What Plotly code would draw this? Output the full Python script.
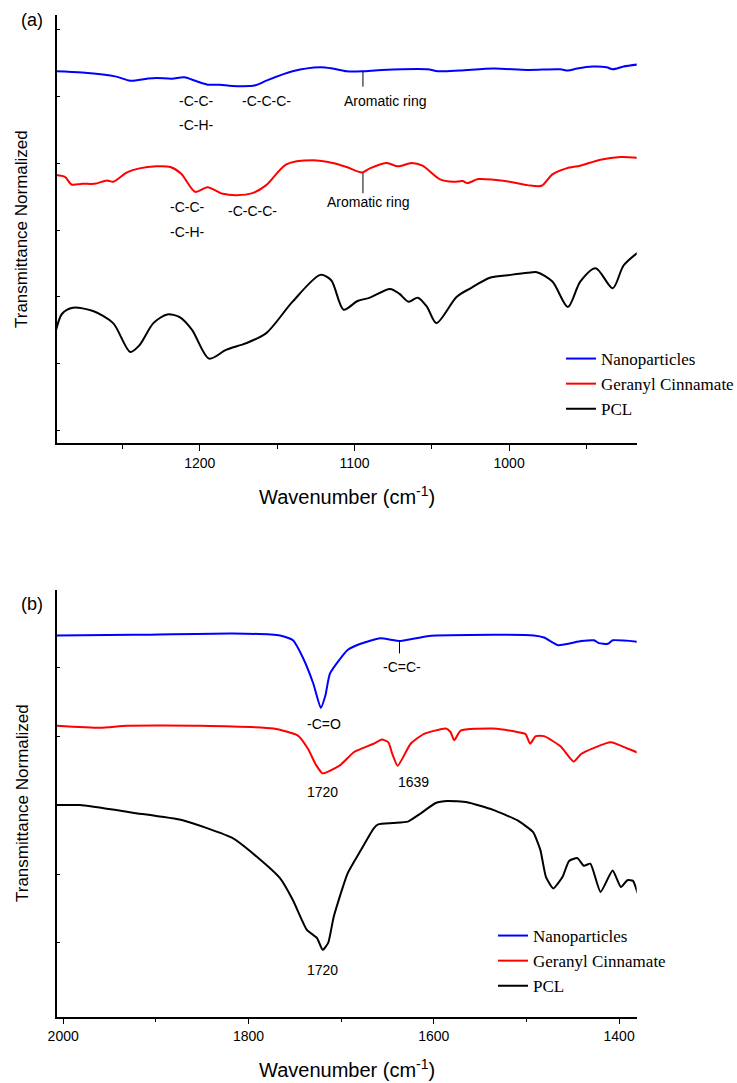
import plotly.graph_objects as go

# ---------------- Panel (a): 1300-900 cm-1 region ----------------
wn_a_nano = [1293, 1276, 1254, 1245, 1234, 1228, 1218, 1210, 1202, 1195, 1187, 1179, 1164,
             1157, 1140, 1122, 1114, 1105, 1095, 1082, 1053, 1046, 1032, 1010, 988, 967,
             962, 956, 946, 937, 933, 926, 917]
t_a_nano = [5.37, 5.35, 5.29, 5.23, 5.26, 5.27, 5.26, 5.28, 5.22, 5.17, 5.17, 5.15, 5.16,
            5.23, 5.37, 5.43, 5.41, 5.37, 5.37, 5.39, 5.40, 5.37, 5.38, 5.41, 5.39, 5.40,
            5.38, 5.41, 5.44, 5.43, 5.40, 5.44, 5.47]

wn_a_gc = [1293, 1287, 1283, 1276, 1268, 1260, 1256, 1247, 1239, 1228, 1219, 1212, 1203,
           1195, 1185, 1176, 1166, 1157, 1144, 1127, 1114, 1105, 1095, 1090, 1079, 1072,
           1063, 1056, 1045, 1036, 1030, 1027, 1020, 1010, 997, 988, 979, 972, 963, 954,
           941, 928, 917]
t_a_gc = [3.82, 3.79, 3.68, 3.69, 3.69, 3.74, 3.72, 3.86, 3.92, 3.95, 3.94, 3.84, 3.57,
          3.64, 3.54, 3.52, 3.55, 3.67, 3.98, 4.04, 4.00, 3.94, 3.86, 3.92, 4.00, 3.95,
          4.00, 3.96, 3.76, 3.72, 3.73, 3.70, 3.76, 3.75, 3.71, 3.67, 3.66, 3.83, 3.92, 3.96,
          4.05, 4.09, 4.08]

wn_a_pcl = [1293, 1289, 1282, 1269, 1256, 1245, 1239, 1230, 1221, 1213, 1205, 1194, 1183,
            1170, 1157, 1140, 1122, 1115, 1107, 1098, 1090, 1077, 1071, 1065, 1059, 1053,
            1047, 1034, 1025, 1012, 999, 988, 982, 972, 962, 954, 944, 933, 926, 917]
t_a_pcl = [1.50, 1.75, 1.84, 1.79, 1.61, 1.18, 1.28, 1.61, 1.74, 1.70, 1.51, 1.08, 1.21,
           1.31, 1.46, 1.93, 2.33, 2.25, 1.81, 1.94, 1.99, 2.12, 2.05, 1.93, 1.99, 1.85,
           1.61, 2.00, 2.13, 2.29, 2.33, 2.36, 2.37, 2.23, 1.85, 2.23, 2.43, 2.13, 2.47, 2.66]

# ---------------- Panel (b): 2000-1380 cm-1 region ----------------
wn_b_nano = [2007, 1925, 1817, 1766, 1752, 1741, 1730, 1722, 1717, 1712, 1693, 1679, 1658,
             1636, 1607, 1536, 1492, 1481, 1466, 1441, 1427, 1422, 1412, 1407, 1380]
t_b_nano = [5.46, 5.47, 5.49, 5.46, 5.39, 5.13, 4.76, 4.41, 4.59, 4.91, 5.25, 5.34, 5.42,
            5.38, 5.45, 5.47, 5.46, 5.43, 5.32, 5.38, 5.39, 5.35, 5.34, 5.39, 5.37]

wn_b_gc = [2007, 1960, 1931, 1852, 1773, 1747, 1736, 1727, 1720, 1701, 1686, 1665, 1656,
           1649, 1645, 1639, 1625, 1611, 1587, 1582, 1578, 1571, 1536, 1510, 1501, 1496,
           1490, 1481, 1463, 1449, 1441, 1427, 1409, 1391, 1380]
t_b_gc = [4.15, 4.12, 4.15, 4.15, 4.11, 4.01, 3.82, 3.58, 3.46, 3.58, 3.77, 3.89, 3.95,
          3.91, 3.75, 3.57, 3.89, 4.03, 4.11, 4.06, 3.94, 4.08, 4.11, 4.06, 4.03, 3.89,
          4.00, 4.00, 3.85, 3.63, 3.74, 3.83, 3.91, 3.82, 3.76]

wn_b_pcl = [2007, 1982, 1925, 1871, 1817, 1791, 1766, 1752, 1737, 1726, 1720, 1714, 1708,
            1693, 1679, 1665, 1660, 1644, 1628, 1614, 1598, 1585, 1564, 1536, 1510, 1493,
            1485, 1479, 1471, 1461, 1454, 1445, 1438, 1431, 1420, 1407, 1398, 1391, 1385, 1380]
t_b_pcl = [3.00, 3.00, 2.89, 2.78, 2.52, 2.25, 1.94, 1.62, 1.19, 1.07, 0.90, 1.00, 1.38,
           2.01, 2.34, 2.66, 2.72, 2.74, 2.76, 2.88, 3.03, 3.06, 3.04, 2.93, 2.78, 2.61,
           2.35, 1.96, 1.79, 1.96, 2.19, 2.23, 2.12, 2.15, 1.74, 2.05, 1.81, 1.91, 1.90, 1.72]

series_names = ["Nanoparticles", "Geranyl Cinnamate", "PCL"]
series_colors = ["#0000FF", "#FF0000", "#000000"]

W, H = 737, 1083
SANS = "Liberation Sans, Arial, sans-serif"
SERIF = "Liberation Serif, Times New Roman, serif"


def px_x(p):
    return p / W


def px_y(p):
    return 1 - p / H


fig = go.Figure()

panel_a = [(wn_a_nano, t_a_nano), (wn_a_gc, t_a_gc), (wn_a_pcl, t_a_pcl)]
panel_b = [(wn_b_nano, t_b_nano), (wn_b_gc, t_b_gc), (wn_b_pcl, t_b_pcl)]

for (x, y), name, col in zip(panel_a, series_names, series_colors):
    fig.add_trace(go.Scatter(x=x, y=y, mode="lines", name=name, xaxis="x", yaxis="y",
                             line=dict(color=col, width=2, shape="spline", smoothing=0.8),
                             legend="legend"))

for (x, y), name, col in zip(panel_b, series_names, series_colors):
    fig.add_trace(go.Scatter(x=x, y=y, mode="lines", name=name, xaxis="x2", yaxis="y2",
                             line=dict(color=col, width=2, shape="spline", smoothing=0.5),
                             legend="legend2"))

x_dom = [px_x(56.7), px_x(636.7)]

common_x = dict(showline=True, linecolor="black", linewidth=1.5, ticks="outside",
                ticklen=6, tickwidth=1.2, tickcolor="black", showgrid=False, zeroline=False,
                tickfont=dict(family=SANS, size=14, color="black"), tickmode="linear",
                automargin=False)
common_y = dict(showline=True, linecolor="black", linewidth=1.5, ticks="inside",
                ticklen=4, tickwidth=1, tickcolor="black", showgrid=False, zeroline=False,
                showticklabels=False, tickmode="array", automargin=False)

legend_style = dict(xanchor="left", yanchor="top",
                    font=dict(family=SERIF, size=17, color="black"),
                    bgcolor="rgba(0,0,0,0)", tracegroupgap=0, itemwidth=30)

fig.update_layout(
    width=W, height=H,
    margin=dict(l=0, r=0, t=0, b=0, autoexpand=False),
    paper_bgcolor="white", plot_bgcolor="white",
    xaxis=dict(domain=x_dom, anchor="y", range=[1292.5, 917.5], tick0=1000, dtick=100,
               minor=dict(tick0=950, dtick=100, ticks="outside", ticklen=4, tickwidth=1,
                          tickcolor="black", showgrid=False),
               **common_x),
    yaxis=dict(domain=[px_y(443), px_y(15)], anchor="x", range=[-0.18, 6.21],
               tickvals=[0, 1, 2, 3, 4, 5, 6], **common_y),
    xaxis2=dict(domain=x_dom, anchor="y2", range=[2007, 1381], tick0=1400, dtick=200,
                minor=dict(tick0=1500, dtick=200, ticks="outside", ticklen=4, tickwidth=1,
                           tickcolor="black", showgrid=False),
                **common_x),
    yaxis2=dict(domain=[px_y(1016.7), px_y(590)], anchor="x2", range=[-0.07, 6.12],
                tickvals=[1, 2, 3, 4, 5], **common_y),
    legend=dict(x=px_x(561), y=px_y(341), **legend_style),
    legend2=dict(x=px_x(493), y=px_y(918), **legend_style),
    showlegend=True,
)

ann_font = dict(family=SANS, size=14, color="black")

# band labels, panel (a)
labels_a = [
    ("-C-C-", 1202, 4.92), ("-C-H-", 1202, 4.57), ("-C-C-C-", 1157, 4.92),
    ("Aromatic ring", 1080, 4.93),
    ("-C-C-", 1208, 3.34), ("-C-H-", 1208, 2.97), ("-C-C-C-", 1166, 3.28),
    ("Aromatic ring", 1091, 3.42),
]
for txt, x, y in labels_a:
    fig.add_annotation(text=txt, x=x, y=y, xref="x", yref="y", showarrow=False,
                       xanchor="center", yanchor="middle", font=ann_font)

# band labels, panel (b)
labels_b = [
    ("-C=O", 1719, 4.17), ("1720", 1720, 3.19), ("-C=C-", 1634, 5.00),
    ("1639", 1622, 3.33), ("1720", 1720, 0.61),
]
for txt, x, y in labels_b:
    fig.add_annotation(text=txt, x=x, y=y, xref="x2", yref="y2", showarrow=False,
                       xanchor="center", yanchor="middle", font=ann_font)

# marker ticks linking labels to bands
for x0, y0, y1, xr, yr in [(1094.5, 5.36, 5.14, "x", "y"), (1094.5, 3.85, 3.55, "x", "y"),
                           (1637, 5.39, 5.20, "x2", "y2")]:
    fig.add_shape(type="line", x0=x0, x1=x0, y0=y0, y1=y1, xref=xr, yref=yr,
                  line=dict(color="black", width=1))

# panel letters and axis titles
for txt, py in [("(a)", 20), ("(b)", 604)]:
    fig.add_annotation(text=txt, x=px_x(32), y=px_y(py), xref="paper", yref="paper",
                       xanchor="center", yanchor="middle", showarrow=False,
                       font=dict(family=SANS, size=18, color="black"))

for py in [229, 803]:
    fig.add_annotation(text="Transmittance Normalized", x=px_x(22), y=px_y(py),
                       xref="paper", yref="paper", showarrow=False, textangle=-90,
                       xanchor="center", yanchor="middle",
                       font=dict(family=SANS, size=17, color="black"))

for py in [495, 1068]:
    fig.add_annotation(text="Wavenumber (cm<sup>-1</sup>)", x=px_x(347), y=px_y(py),
                       xref="paper", yref="paper", showarrow=False,
                       xanchor="center", yanchor="middle",
                       font=dict(family=SANS, size=20, color="black"))

fig.write_html("out.html")
